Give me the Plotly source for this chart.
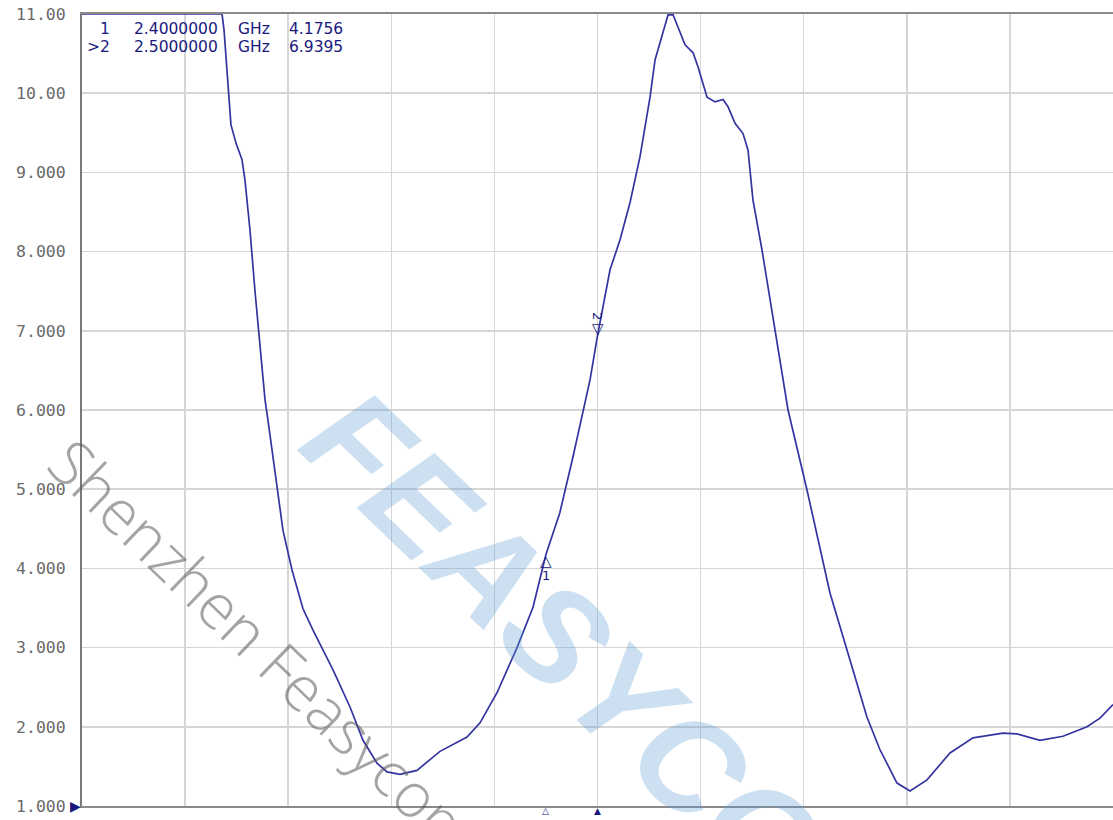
import plotly.graph_objects as go

# Frequency sweep (GHz) and trace values (values above 11 shown clamped at 11)
freq_ghz = [1.5000, 1.6000, 1.7000, 1.7716, 1.7755, 1.7832, 1.7890, 1.7987, 1.8104, 1.8162,
            1.8259, 1.8356, 1.8453, 1.8550, 1.8608, 1.8783, 1.8899, 1.9074, 1.9287, 1.9481,
            1.9869, 2.0199, 2.0451, 2.0722, 2.0917, 2.1169, 2.1498, 2.1945, 2.2469, 2.2721,
            2.3051, 2.3439, 2.3749, 2.4000, 2.4268, 2.4525, 2.4855, 2.5000, 2.5243, 2.5437,
            2.5631, 2.5825, 2.6019, 2.6116, 2.6213, 2.6369, 2.6466, 2.6601, 2.6698, 2.6854,
            2.6951, 2.7125, 2.7280, 2.7435, 2.7532, 2.7668, 2.7823, 2.7920, 2.8016, 2.8191,
            2.8444, 2.8696, 2.9064, 2.9181, 2.9510, 2.9840, 3.0228, 3.0480, 3.0810, 3.1062,
            3.1392, 3.1838, 3.2284, 3.2866, 3.3137, 3.3584, 3.4030, 3.4496, 3.4748, 3.5000]
swr = [11.00, 11.00, 11.00, 11.00, 10.80, 10.04, 9.60, 9.37, 9.16, 8.90,
       8.27, 7.50, 6.76, 6.13, 5.87, 5.03, 4.48, 3.98, 3.49, 3.22,
       2.72, 2.25, 1.83, 1.54, 1.43, 1.40, 1.45, 1.69, 1.87, 2.05,
       2.43, 3.00, 3.51, 4.1756, 4.70, 5.41, 6.38, 6.9395, 7.77, 8.15,
       8.62, 9.20, 9.95, 10.42, 10.63, 10.99, 10.99, 10.76, 10.61, 10.51,
       10.33, 9.95, 9.89, 9.92, 9.83, 9.62, 9.49, 9.28, 8.65, 8.02,
       6.98, 6.00, 4.99, 4.65, 3.69, 2.97, 2.12, 1.71, 1.29, 1.19,
       1.33, 1.67, 1.86, 1.92, 1.91, 1.83, 1.88, 2.00, 2.11, 2.28]

# Markers
marker_ids = ["1", "2"]
marker_freq = [2.4, 2.5]
marker_val = [4.1756, 6.9395]
marker_freq_text = ["2.4000000", "2.5000000"]
marker_val_text = ["4.1756", "6.9395"]
active_marker = "2"

# Axes
y_ticks = [1, 2, 3, 4, 5, 6, 7, 8, 9, 10, 11]
y_tick_text = ["1.000", "2.000", "3.000", "4.000", "5.000", "6.000", "7.000", "8.000", "9.000", "10.00", "11.00"]
x_start, x_stop, x_step = 1.5, 3.5, 0.2

TRACE = "rgb(52,52,160)"
NAVY = "rgb(25,25,125)"

fig = go.Figure()
fig.add_trace(go.Scatter(x=freq_ghz, y=swr, mode="lines",
                         line=dict(color=TRACE, width=1.7), hoverinfo="skip"))

annotations = []
# Watermarks
annotations.append(dict(text="Shenzhen Feasycom", xref="paper", yref="paper",
                        x=0.178, y=0.200, xanchor="center", yanchor="middle",
                        textangle=44, showarrow=False,
                        font=dict(family="Open Sans", size=62, color="rgba(90,90,90,0.55)", weight=300)))
annotations.append(dict(text="<i>FEASYCOM</i>", xref="paper", yref="paper",
                        x=0.508, y=0.155, xanchor="center", yanchor="middle",
                        textangle=44, showarrow=False,
                        font=dict(family="Liberation Sans", size=136, color="rgba(90,155,210,0.31)", weight="bold")))

# Marker readout table (top-left)
for i, (mid, ft, vt) in enumerate(zip(marker_ids, marker_freq_text, marker_val_text)):
    label = (">" if mid == active_marker else "") + mid
    yy = 0.9811 - i * 0.0228
    for txt, xp, anchor in [(label, 0.0281, "right"), (ft, 0.0495, "left"),
                            ("GHz", 0.1503, "left"), (vt, 0.1998, "left")]:
        annotations.append(dict(text=txt, xref="paper", yref="paper", x=xp, y=yy,
                                xanchor=anchor, yanchor="middle", showarrow=False, borderpad=0,
                                font=dict(family="DejaVu Sans", size=15.5, color=NAVY)))

# Markers on the trace
for mid, f, v in zip(marker_ids, marker_freq, marker_val):
    if mid == active_marker:
        annotations.append(dict(text="\u25bd", x=f, y=v, xanchor="center", yanchor="bottom",
                                showarrow=False, yshift=-4,
                                font=dict(family="DejaVu Sans", size=15, color=NAVY)))
        annotations.append(dict(text=mid, x=f, y=v, xanchor="center", yanchor="bottom",
                                showarrow=False, yshift=14, textangle=90,
                                font=dict(family="DejaVu Sans", size=13, color=NAVY)))
        annotations.append(dict(text="\u25b2", x=f, y=1, xanchor="center", yanchor="top",
                                showarrow=False, yshift=2,
                                font=dict(family="DejaVu Sans", size=9, color=NAVY)))
    else:
        annotations.append(dict(text="\u25b3", x=f, y=v, xanchor="center", yanchor="top",
                                showarrow=False, yshift=4,
                                font=dict(family="DejaVu Sans", size=15, color=NAVY)))
        annotations.append(dict(text=mid, x=f, y=v, xanchor="center", yanchor="top",
                                showarrow=False, yshift=-12,
                                font=dict(family="DejaVu Sans", size=13, color=NAVY)))
        annotations.append(dict(text="\u25b3", x=f, y=1, xanchor="center", yanchor="top",
                                showarrow=False, yshift=2,
                                font=dict(family="DejaVu Sans", size=9, color=NAVY)))

# Reference level marker
annotations.append(dict(text="\u25b6", x=x_start, y=y_ticks[0], xanchor="right", yanchor="middle",
                        showarrow=False, xshift=1,
                        font=dict(family="DejaVu Sans", size=14, color=NAVY)))

fig.update_layout(
    width=1113, height=820,
    margin=dict(l=82, r=0, t=14, b=14),
    paper_bgcolor="white", plot_bgcolor="white",
    showlegend=False,
    annotations=annotations,
    xaxis=dict(range=[x_start, x_stop], tick0=x_start, dtick=x_step, showticklabels=False,
               showgrid=True, gridcolor="#d6d6d6", gridwidth=1.5, zeroline=False,
               showline=True, linecolor="#8a8a8a", linewidth=2, mirror=True, ticks=""),
    yaxis=dict(range=[1, 11], tickvals=y_ticks, ticktext=y_tick_text,
               showgrid=True, gridcolor="#d6d6d6", gridwidth=1.5, zeroline=False,
               showline=True, linecolor="#7a7a7a", linewidth=2, ticks="",
               ticklabelstandoff=11,
               tickfont=dict(family="DejaVu Sans Mono", size=16.5, color="#6a6a6a")),
)

fig.write_html("out.html", config={"displayModeBar": False, "staticPlot": True},
               post_script="document.body.style.margin='0px';document.body.style.overflow='hidden';")
